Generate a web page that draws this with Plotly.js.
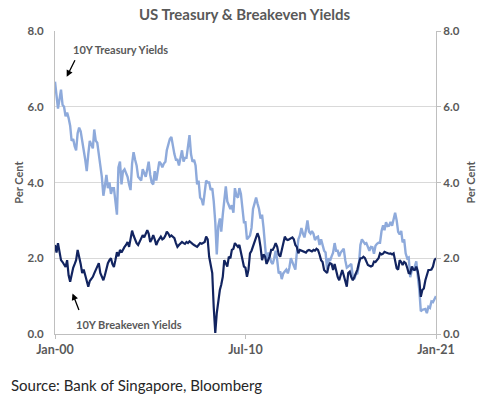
<!DOCTYPE html>
<html>
<head>
<meta charset="utf-8">
<script src="https://cdn.plot.ly/plotly-3.0.1.min.js"></script>
<style>
  html, body { margin: 0; padding: 0; background: #ffffff; }
  #chart { width: 489px; height: 397px; }
</style>
</head>
<body>
<div id="chart"></div>
<script>
// Monthly readings, starting January 2000
const startYear = 2000;
const treasuryYield = [
  6.66, 6.30, 5.95, 6.20, 6.45, 6.05, 6.00, 5.75, 5.85, 5.70, 5.50, 5.10, // 2000
  5.15, 4.95, 4.85, 5.30, 5.45, 5.35, 5.05, 4.85, 4.60, 4.30, 4.75, 5.10, // 2001
  5.00, 4.90, 5.40, 5.10, 5.05, 4.80, 4.45, 4.15, 3.65, 3.90, 4.20, 3.85, // 2002
  4.00, 3.70, 3.85, 3.85, 3.40, 3.15, 4.40, 4.55, 3.95, 4.30, 4.35, 4.25, // 2003
  4.15, 3.95, 3.80, 4.50, 4.80, 4.60, 4.45, 4.15, 4.10, 4.05, 4.35, 4.25, // 2004
  4.15, 4.35, 4.55, 4.20, 4.00, 3.95, 4.30, 4.05, 4.30, 4.55, 4.50, 4.40, // 2005
  4.50, 4.55, 4.85, 5.05, 5.15, 5.20, 4.95, 4.75, 4.60, 4.60, 4.45, 4.70, // 2006
  4.85, 4.55, 4.65, 4.65, 4.90, 5.25, 4.75, 4.55, 4.60, 4.45, 3.95, 4.05, // 2007
  3.60, 3.55, 3.40, 3.75, 4.05, 4.00, 4.00, 3.80, 3.85, 3.50, 2.95, 2.10, // 2008
  2.85, 3.05, 2.70, 3.15, 3.50, 3.90, 3.50, 3.40, 3.30, 3.40, 3.20, 3.85, // 2009
  3.65, 3.60, 3.85, 3.70, 3.30, 2.95, 2.95, 2.50, 2.55, 2.60, 2.80, 3.30, // 2010
  3.45, 3.60, 3.45, 3.30, 3.05, 3.15, 2.80, 2.20, 1.85, 2.15, 2.05, 1.90, // 2011
  1.85, 2.00, 2.20, 1.95, 1.60, 1.65, 1.45, 1.60, 1.65, 1.70, 1.60, 1.75, // 2012
  2.00, 1.90, 1.85, 1.70, 2.15, 2.50, 2.60, 2.80, 2.65, 2.55, 2.75, 3.00, // 2013
  2.70, 2.65, 2.72, 2.65, 2.48, 2.55, 2.57, 2.35, 2.50, 2.32, 2.20, 2.15, // 2014
  1.70, 2.00, 1.93, 2.05, 2.15, 2.40, 2.20, 2.20, 2.05, 2.15, 2.20, 2.25, // 2015
  1.95, 1.75, 1.78, 1.83, 1.85, 1.50, 1.45, 1.58, 1.60, 1.82, 2.35, 2.50, // 2016
  2.45, 2.38, 2.40, 2.28, 2.20, 2.30, 2.29, 2.12, 2.33, 2.38, 2.41, 2.41, // 2017
  2.72, 2.87, 2.74, 2.95, 2.85, 2.86, 2.96, 2.86, 3.05, 3.20, 3.00, 2.70, // 2018
  2.63, 2.72, 2.42, 2.50, 2.13, 2.00, 2.02, 1.50, 1.67, 1.69, 1.78, 1.92, // 2019
  1.52, 1.15, 0.60, 0.64, 0.65, 0.66, 0.55, 0.72, 0.69, 0.86, 0.84, 0.93, // 2020
  1.00                                                                    // 2021
];
const breakevenYield = [
  2.35, 2.15, 2.40, 2.15, 1.95, 1.90, 1.85, 1.77, 1.95, 1.55, 1.38, 1.61, // 2000
  1.75, 1.85, 1.95, 2.22, 2.05, 1.85, 1.61, 1.70, 1.55, 1.42, 1.25, 1.40, // 2001
  1.45, 1.51, 1.60, 1.69, 1.75, 1.87, 1.61, 1.50, 1.42, 1.55, 1.75, 1.87, // 2002
  1.95, 2.00, 1.85, 1.77, 1.95, 2.16, 2.05, 2.22, 2.15, 2.25, 2.30, 2.35, // 2003
  2.43, 2.30, 2.50, 2.73, 2.60, 2.48, 2.40, 2.35, 2.45, 2.55, 2.61, 2.55, // 2004
  2.65, 2.74, 2.65, 2.43, 2.50, 2.61, 2.50, 2.35, 2.45, 2.50, 2.57, 2.50, // 2005
  2.53, 2.60, 2.70, 2.65, 2.57, 2.60, 2.55, 2.53, 2.40, 2.30, 2.35, 2.40, // 2006
  2.43, 2.40, 2.38, 2.43, 2.40, 2.45, 2.40, 2.38, 2.35, 2.32, 2.30, 2.35, // 2007
  2.40, 2.38, 2.40, 2.43, 2.57, 2.50, 2.04, 1.80, 1.61, 0.70, 0.03, 0.55, // 2008
  0.90, 1.16, 1.30, 1.51, 1.95, 1.85, 1.78, 2.04, 2.00, 2.22, 2.25, 2.40, // 2009
  2.35, 2.30, 2.35, 2.13, 2.00, 1.78, 1.75, 1.51, 1.70, 2.13, 2.20, 2.30, // 2010
  2.43, 2.55, 2.66, 2.55, 2.30, 1.95, 2.10, 2.04, 1.85, 1.95, 2.05, 2.22, // 2011
  2.22, 2.30, 2.40, 2.30, 2.10, 2.04, 2.22, 2.40, 2.57, 2.50, 2.48, 2.50, // 2012
  2.53, 2.55, 2.50, 2.35, 2.30, 2.13, 2.22, 2.20, 2.17, 2.17, 2.15, 2.20, // 2013
  2.22, 2.20, 2.18, 2.22, 2.20, 2.25, 2.22, 2.10, 1.95, 1.90, 1.69, 1.65, // 2014
  1.61, 1.80, 1.87, 1.85, 1.69, 1.85, 1.65, 1.51, 1.42, 1.55, 1.69, 1.55, // 2015
  1.40, 1.25, 1.61, 1.65, 1.50, 1.42, 1.50, 1.61, 1.70, 1.87, 2.00, 2.00, // 2016
  2.04, 2.00, 1.90, 1.82, 1.80, 1.78, 1.80, 1.91, 1.90, 1.95, 2.00, 2.13, // 2017
  2.10, 2.12, 2.17, 2.15, 2.13, 2.12, 2.13, 2.10, 2.13, 1.95, 1.74, 1.70, // 2018
  1.95, 1.90, 1.82, 1.90, 1.87, 1.75, 1.61, 1.60, 1.78, 1.70, 1.69, 1.78, // 2019
  1.65, 1.40, 0.98, 1.16, 1.20, 1.42, 1.55, 1.69, 1.69, 1.70, 1.78, 1.95, // 2020
  2.00                                                                    // 2021
];
const xTickVals = ['2000-01-01', '2010-07-01', '2021-01-01'];
const xTickText = ['Jan-00', 'Jul-10', 'Jan-21'];
const yTickVals = [0, 2, 4, 6, 8];
const yTickText = ['0.0', '2.0', '4.0', '6.0', '8.0'];

function monthDates(n) {
  const out = [];
  for (let i = 0; i < n; i++) {
    const y = startYear + Math.floor(i / 12);
    const m = (i % 12) + 1;
    out.push(y + '-' + String(m).padStart(2, '0') + '-01');
  }
  return out;
}

const font = 'Lato, "Open Sans", sans-serif';
const grey = '#595959';

const traces = [
  {
    x: monthDates(treasuryYield.length), y: treasuryYield,
    type: 'scatter', mode: 'lines', name: '10Y Treasury Yields',
    line: { color: '#8eaadb', width: 2.4 }, yaxis: 'y'
  },
  {
    x: monthDates(breakevenYield.length), y: breakevenYield,
    type: 'scatter', mode: 'lines', name: '10Y Breakeven Yields',
    line: { color: '#122460', width: 2.2 }, yaxis: 'y2'
  }
];

const yCommon = {
  range: [0, 8], tickvals: yTickVals, ticktext: yTickText,
  tickfont: { family: font, size: 11.5, color: grey, weight: 'bold' },
  showline: true, linecolor: '#bfbfbf', linewidth: 1,
  zeroline: false, fixedrange: true
};

const layout = {
  width: 489, height: 397,
  margin: { l: 55, r: 53, t: 31, b: 63 },
  paper_bgcolor: '#ffffff', plot_bgcolor: '#ffffff',
  showlegend: false,
  title: {
    text: 'US Treasury & Breakeven Yields',
    font: { family: font, size: 15, color: grey, weight: 'bold' },
    x: 0.5, xanchor: 'center', y: 0.963, yanchor: 'middle'
  },
  xaxis: {
    type: 'date', range: ['2000-01-01', '2021-01-01'],
    tickvals: xTickVals, ticktext: xTickText,
    tickfont: { family: font, size: 12.5, color: grey, weight: 'bold' },
    showline: true, linecolor: '#bfbfbf', linewidth: 1,
    ticks: 'outside', ticklen: 4, tickcolor: '#bfbfbf',
    showgrid: false, zeroline: false
  },
  yaxis: Object.assign({}, yCommon, {
    side: 'left', showgrid: true, gridcolor: '#d9d9d9', gridwidth: 1,
    ticks: '', ticklabelstandoff: 8,
    title: { text: 'Per Cent', font: { family: font, size: 11, color: grey, weight: 'bold' }, standoff: 1 }
  }),
  yaxis2: Object.assign({}, yCommon, {
    side: 'right', overlaying: 'y', showgrid: false,
    ticks: 'outside', ticklen: 4, tickcolor: '#bfbfbf',
    title: { text: 'Per Cent', font: { family: font, size: 11, color: grey, weight: 'bold' }, standoff: 8 }
  }),
  annotations: [
    { xref: 'paper', yref: 'paper', x: 0.043, y: 0.94, xanchor: 'left', yanchor: 'middle',
      text: '10Y Treasury Yields', showarrow: false,
      font: { family: font, size: 11, color: grey, weight: 'bold' } },
    { xref: 'paper', yref: 'paper', x: 0.0307, y: 0.849, text: '',
      showarrow: true, arrowhead: 2, arrowsize: 1, arrowwidth: 1.3, arrowcolor: '#000000',
      axref: 'pixel', ayref: 'pixel', ax: 9, ay: -18 },
    { xref: 'paper', yref: 'paper', x: 0.05, y: 0.033, xanchor: 'left', yanchor: 'middle',
      text: '10Y Breakeven Yields', showarrow: false,
      font: { family: font, size: 11, color: grey, weight: 'bold' } },
    { xref: 'paper', yref: 'paper', x: 0.046, y: 0.134, text: '',
      showarrow: true, arrowhead: 2, arrowsize: 1, arrowwidth: 1.3, arrowcolor: '#000000',
      axref: 'pixel', ayref: 'pixel', ax: 7, ay: 18 },
    { xref: 'paper', yref: 'paper', x: -0.122, y: -0.168, xanchor: 'left', yanchor: 'middle',
      text: 'Source: Bank of Singapore, Bloomberg', showarrow: false,
      font: { family: font, size: 15, color: '#262626' } }
  ]
};

Plotly.newPlot('chart', traces, layout, { displayModeBar: false, staticPlot: true });
</script>
</body>
</html>
